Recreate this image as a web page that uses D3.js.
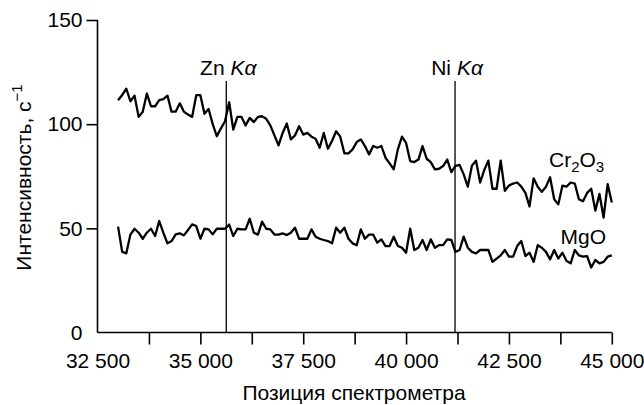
<!DOCTYPE html>
<html lang="ru">
  <head>
    <meta charset="utf-8">
    <title>Спектр</title>
    <script src="https://d3js.org/d3.v7.min.js"></script>
    <style>
      body { margin: 0; background: #fff; }
      svg text { font-family: "Liberation Sans", Arial, sans-serif; fill: #000; }
      .axis path, .axis line { stroke: #000; stroke-width: 1.6px; }
      .axis text { font-size: 21px; }
      .series { fill: none; stroke: #000; stroke-width: 2.3px; stroke-linejoin: round; }
      .peak { stroke: #000; stroke-width: 1.3px; }
    </style>
  </head>
  <body>
    <svg id="chart" width="644" height="405" xmlns="http://www.w3.org/2000/svg"></svg>
    <script>
      // spectrometer positions, one reading every 100 units
      let positions = d3.range(33000, 45001, 100);

      let cr2o3 = [
        111.5, 114, 117, 111, 113.7, 103.5, 106, 114.7, 108.6, 108.6,
        111.5, 112, 113.7, 106, 106, 110, 106, 104.6, 103.5, 113.9,
        113.9, 105, 107.3, 100, 94.2, 98, 101.4, 110.5, 97.4, 103.5,
        103.5, 99.4, 103, 101, 103.5, 103.8, 102.6, 99.4, 94.6, 89.8,
        95.8, 100.3, 92.7, 94.6, 99, 95, 95.8, 94, 93, 88.7,
        95.8, 88.2, 91.9, 96.6, 94, 86, 86, 87.9, 91.4, 92.7,
        89.5, 85.5, 89.5, 88.7, 89.5, 83.9, 81.2, 78.3, 87.9, 94,
        91, 82.3, 81.8, 83, 89.5, 83.4, 81.8, 78.3, 78.6, 79.9,
        83, 77, 80, 80.4, 75.9, 70, 80, 82.5, 72, 78,
        82.5, 69, 69, 82.5, 68, 70.5, 71.5, 72, 70, 67,
        60.5, 74, 70, 67.5, 70, 74.5, 64, 61.5, 70.5, 70,
        72, 71.5, 64, 63, 67, 69, 58.5, 66.5, 55.2, 71.2,
        62.4
      ];

      let mgo = [
        50.8, 38.7, 38, 47, 49.8, 47.9, 45, 47.9, 49.8, 46.3,
        53.5, 47.9, 42.8, 43.9, 47.1, 47.6, 46.6, 49.2, 51.9, 51.1,
        45, 49.8, 49.5, 47.1, 49.8, 49.8, 49.8, 51.8, 46.3, 49.8,
        49.5, 49.5, 54.6, 47.9, 47, 53.2, 49.8, 49.5, 47, 47,
        47.6, 46.8, 47.9, 50.3, 45, 45, 45, 49.5, 46, 45,
        44.4, 43.9, 42.8, 50.3, 47.9, 50.3, 45, 42.8, 41.9, 49.5,
        45, 47, 47, 43.1, 44.7, 41.5, 41.5, 46, 41.5, 40.7,
        38.3, 49.8, 39.6, 40.7, 44.4, 39.6, 44.7, 40.7, 41.9, 41.9,
        44.7, 44.4, 38.7, 39.6, 46, 40.7, 38.7, 38, 39.6, 39.6,
        39.6, 33.9, 35.5, 37, 39.6, 36.4, 36.4, 41.5, 43.9, 36.7,
        38.3, 33.9, 41.9, 40.7, 38.7, 35.1, 39.6, 35.5, 38.3, 34.3,
        33.2, 39.6, 37, 36.4, 36.7, 31.2, 34.8, 33.2, 33.9, 36.4,
        37
      ];

      let xTicks = [32500, 33750, 35000, 36250, 37500, 38750, 40000, 41250, 42500, 43750, 45000];
      let xLabels = {32500: '32 500', 35000: '35 000', 37500: '37 500', 40000: '40 000', 42500: '42 500', 45000: '45 000'};
      let yTicks = [0, 50, 100, 150];

      let lines = [
        {name: 'Zn', pos: 35630},
        {name: 'Ni', pos: 41190}
      ];

      let x = d3.scaleLinear().domain([32500, 45000]).range([97.5, 611.8]);
      let y = d3.scaleLinear().domain([0, 150]).range([332.5, 20]);

      let svg = d3.select('#chart');

      // axes
      let xAxis = svg.append('g')
        .attr('class', 'axis')
        .attr('transform', 'translate(0,' + y(0) + ')')
        .call(d3.axisBottom(x)
          .tickValues(xTicks)
          .tickSize(12)
          .tickPadding(9)
          .tickSizeOuter(0)
          .tickFormat(function(d) { return xLabels[d] || ''; }));
      xAxis.selectAll('.tick').filter(function(d) { return d === 32500; }).select('line').remove();

      let yAxis = svg.append('g')
        .attr('class', 'axis')
        .attr('transform', 'translate(' + x(32500) + ',0)')
        .call(d3.axisLeft(y)
          .tickValues(yTicks)
          .tickSize(11)
          .tickPadding(4)
          .tickSizeOuter(0));
      yAxis.selectAll('.tick').filter(function(d) { return d === 0; }).select('line').remove();
      xAxis.select('.domain').attr('d', 'M' + x(32500) + ',0H' + x(45000));
      yAxis.select('.domain').attr('d', 'M0,' + y(0) + 'V' + y(150));

      // element line markers
      svg.selectAll('.peak')
        .data(lines)
        .join('line')
        .attr('class', 'peak')
        .attr('x1', function(d) { return x(d.pos); })
        .attr('x2', function(d) { return x(d.pos); })
        .attr('y1', y(0))
        .attr('y2', 81);

      let peakLabels = svg.selectAll('.peaklabel')
        .data(lines)
        .join('text')
        .attr('class', 'peaklabel')
        .attr('x', function(d) { return x(d.pos) + 2; })
        .attr('y', 75)
        .attr('text-anchor', 'middle')
        .style('font-size', '21px');
      peakLabels.append('tspan').text(function(d) { return d.name + ' '; });
      peakLabels.append('tspan').attr('font-style', 'italic').text('Kα');

      // series
      let line = d3.line()
        .x(function(d, i) { return x(positions[i]); })
        .y(function(d) { return y(d); });

      svg.append('path').datum(cr2o3).attr('class', 'series').attr('d', line);
      svg.append('path').datum(mgo).attr('class', 'series').attr('d', line);

      // series labels
      let crLabel = svg.append('text')
        .attr('x', 549)
        .attr('y', 166.5)
        .style('font-size', '21px');
      crLabel.append('tspan').text('Cr');
      crLabel.append('tspan').attr('dy', 5).style('font-size', '15px').text('2');
      crLabel.append('tspan').attr('dy', -5).text('O');
      crLabel.append('tspan').attr('dy', 5).style('font-size', '15px').text('3');

      svg.append('text')
        .attr('x', 606)
        .attr('y', 243.5)
        .attr('text-anchor', 'end')
        .style('font-size', '21px')
        .text('MgO');

      // axis titles
      svg.append('text')
        .attr('x', 354)
        .attr('y', 400)
        .attr('text-anchor', 'middle')
        .style('font-size', '21px')
        .text('Позиция спектрометра');

      let yTitle = svg.append('text')
        .attr('transform', 'translate(31,177.5) rotate(-90)')
        .attr('text-anchor', 'middle')
        .style('font-size', '21px');
      yTitle.append('tspan').text('Интенсивность, с');
      yTitle.append('tspan').attr('dy', -9).style('font-size', '15px').text('−1');
    </script>
  </body>
</html>
